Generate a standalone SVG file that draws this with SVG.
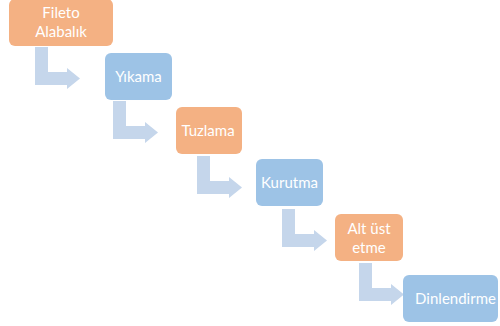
<svg xmlns="http://www.w3.org/2000/svg" width="500" height="326" viewBox="0 0 500 326">
<style>
.o{fill:#F4B183;}
.b{fill:#9DC3E6;}
.arr{fill:#C5D6EB;}
text{font-family:Lato,"Open Sans",sans-serif;font-size:15px;fill:#ffffff;text-anchor:middle;}
</style>
<defs>
<path id="bent" d="M0,0 H13 V25 H32 V21 L45,31.5 L32,42 V38 H0 Z"/>
</defs>
<rect width="500" height="326" fill="#ffffff"/>
<g id="connectors" class="arr">
<use href="#bent" x="35" y="47"/>
<use href="#bent" x="113" y="101"/>
<use href="#bent" x="197" y="156"/>
<use href="#bent" x="282" y="209"/>
<use href="#bent" x="359" y="263"/>
</g>
<g id="n1"><rect class="o" x="9" y="-1" width="104" height="47" rx="6"/><text x="61" y="18">Fileto</text><text x="61" y="37">Alabalık</text></g>
<g id="n2"><rect class="b" x="105" y="53" width="67" height="47" rx="6"/><text x="138.5" y="82">Yıkama</text></g>
<g id="n3"><rect class="o" x="176" y="107" width="66" height="47" rx="6"/><text x="208" y="136">Tuzlama</text></g>
<g id="n4"><rect class="b" x="256" y="159" width="67" height="47" rx="6"/><text x="289.5" y="188">Kurutma</text></g>
<g id="n5"><rect class="o" x="335" y="214" width="68" height="47" rx="6"/><text x="369" y="234">Alt üst</text><text x="369" y="252.5">etme</text></g>
<g id="n6"><rect class="b" x="403" y="275" width="95" height="47" rx="6"/><text x="455.5" y="304">Dinlendirme</text></g>
</svg>
